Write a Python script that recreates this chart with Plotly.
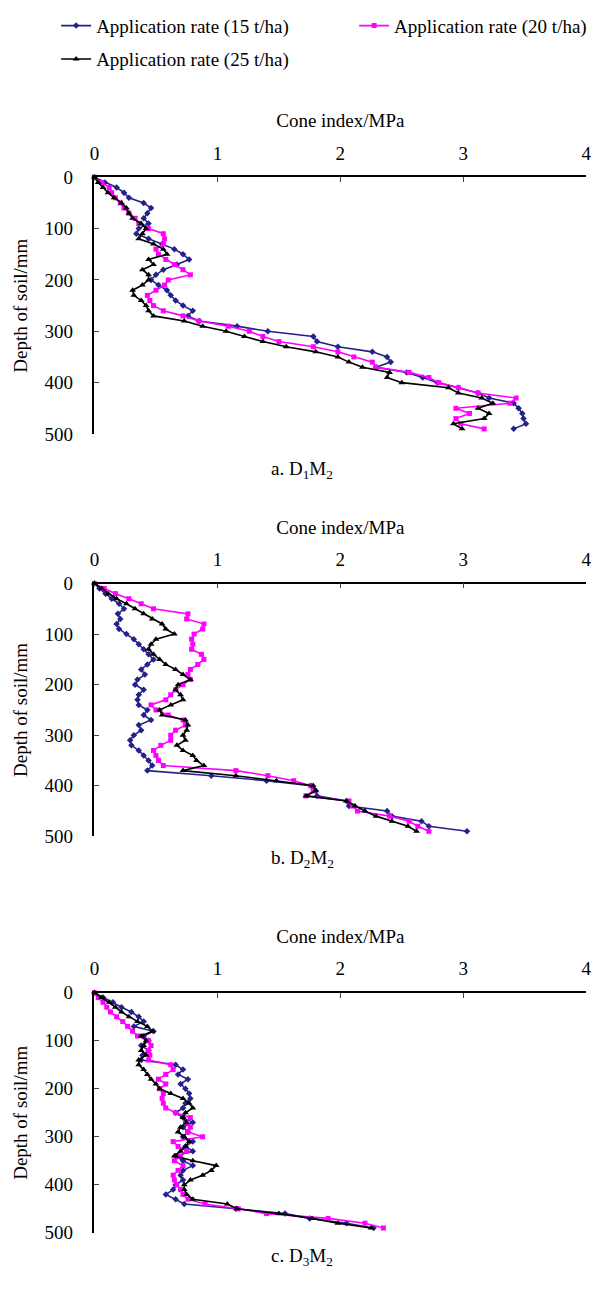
import plotly.graph_objects as go

# depth of soil (mm), shared by every curve
depth = [0, 10, 20, 30, 40, 50, 60, 70, 80, 90,
         100, 110, 120, 130, 140, 150, 160, 170, 180, 190,
         200, 210, 220, 230, 240, 250, 260, 270, 280, 290,
         300, 310, 320, 330, 340, 350, 360, 370, 380, 390,
         400, 410, 420, 430, 440, 450, 460, 470, 480, 490]

series_names = ["Application rate (15 t/ha)", "Application rate (20 t/ha)",
                "Application rate (25 t/ha)"]
x_ticks = [0, 1, 2, 3, 4]
y_ticks = [0, 100, 200, 300, 400, 500]
captions = ["a. D<sub>1</sub>M<sub>2</sub>", "b. D<sub>2</sub>M<sub>2</sub>",
            "c. D<sub>3</sub>M<sub>2</sub>"]

# cone index (MPa), panel a (D1M2)
a_15 = [0, .085, .18, .24, .28, .40, .46, .43, .40, .44,
        .36, .34, .44, .55, .65, .72, .77, .67, .56, .50,
        .46, .52, .59, .62, .66, .72, .80, .76, .85, 1.16,
        1.41, 1.78, 1.81, 1.98, 2.26, 2.38, 2.41, 2.29, 2.54, 2.67,
        2.79, 2.96, 3.12, 3.21, 3.41, 3.45, 3.48, 3.49, 3.51, 3.41]
a_20 = [0, .06, .12, .14, .17, .21, .24, .28, .33, .36,
        .44, .56, .57, .56, .50, .52, .58, .65, .72, .78,
        .60, .57, .50, .43, .45, .48, .56, .72, .85, 1.09,
        1.26, 1.37, 1.50, 1.78, 1.98, 2.11, 2.26, 2.29, 2.56, 2.72,
        2.80, 2.96, 3.12, 3.43, 3.38, 2.94, 3.05, 2.94, 2.98, 3.17]
a_25 = [0, .03, .07, .11, .16, .22, .26, .28, .31, .38,
        .42, .39, .36, .48, .56, .59, .44, .48, .39, .44,
        .44, .39, .31, .32, .38, .42, .44, .48, .73, .88,
        1.07, 1.22, 1.37, 1.56, 1.80, 1.98, 2.07, 2.18, 2.40, 2.38,
        2.50, 2.88, 2.96, 3.15, 3.24, 3.12, 3.21, 3.17, 2.92, 2.99]

# panel b (D2M2)
b_15 = [0, .04, .09, .14, .20, .24, .19, .21, .18, .20,
        .26, .32, .36, .40, .44, .48, .43, .38, .41, .35,
        .33, .40, .36, .35, .36, .43, .40, .46, .36, .38,
        .32, .29, .30, .36, .40, .44, .47, .43, .95, 1.40,
        1.76, 1.80, 1.81, 2.05, 2.07, 2.38, 2.42, 2.66, 2.72, 3.03]
b_20 = [0, .08, .17, .28, .38, .48, .76, .75, .89, .88,
        .81, .79, .80, .79, .87, .89, .84, .78, .76, .78,
        .72, .66, .62, .58, .46, .50, .60, .72, .74, .66,
        .62, .62, .54, .48, .50, .52, .56, 1.15, 1.41, 1.62,
        1.76, 1.78, 1.72, 2.07, 2.10, 2.14, 2.40, 2.56, 2.63, 2.72]
b_25 = [0, .06, .11, .18, .26, .33, .40, .47, .55, .58,
        .65, .50, .46, .44, .48, .53, .58, .66, .72, .78,
        .68, .66, .70, .72, .62, .53, .55, .74, .76, .75,
        .72, .74, .67, .72, .80, .83, .89, .72, 1.15, 1.48,
        1.78, 1.80, 1.72, 2.05, 2.12, 2.20, 2.29, 2.42, 2.55, 2.62]

# panel c (D3M2)
c_15 = [0, .07, .15, .22, .30, .36, .40, .32, .48, .40,
        .44, .38, .44, .39, .38, .66, .72, .68, .76, .70,
        .74, .77, .78, .74, .72, .66, .72, .80, .72, .76,
        .72, .80, .74, .80, .66, .72, .80, .72, .70, .72,
        .66, .64, .58, .66, .73, 1.15, 1.55, 1.75, 2.05, 2.27]
c_20 = [0, .03, .07, .10, .13, .18, .23, .27, .31, .35,
        .44, .46, .44, .45, .44, .62, .64, .58, .52, .58,
        .53, .56, .55, .56, .58, .66, .78, .74, .78, .76,
        .88, .64, .68, .75, .70, .65, .72, .68, .64, .65,
        .67, .70, .72, .76, .90, 1.17, 1.40, 1.90, 2.20, 2.35]
c_25 = [0, .06, .12, .17, .22, .28, .35, .43, .47, .38,
        .42, .40, .38, .42, .36, .36, .40, .43, .46, .50,
        .53, .62, .72, .77, .80, .74, .72, .75, .70, .68,
        .73, .77, .74, .70, .65, .80, .99, .95, .88, .78,
        .73, .73, .75, .80, 1.08, 1.16, 1.50, 1.77, 1.98, 2.25]

panels = [(a_15, a_20, a_25), (b_15, b_20, b_25), (c_15, c_20, c_25)]

W, H = 604, 1293
FONT = "Liberation Serif, Times New Roman, serif"
colors = ["#22228a", "#ff00ff", "#000000"]
symbols = ["diamond", "square", "triangle-up"]
msizes = [5, 5, 6]
legends = ["legend", "legend2", "legend3"]


def fy(px):
    return 1 - px / H


# plot boxes in pixels: (top, bottom)
boxes = [(170, 431), (583, 840), (999, 1243)]
x_dom = [91 / W, 591 / W]
cap_y = [468, 877, 1282]

fig = go.Figure()
for i, vals in enumerate(panels):
    sfx = "" if i == 0 else str(i + 1)
    for j, v in enumerate(vals):
        fig.add_trace(go.Scatter(
            x=v, y=depth, mode="lines+markers", name=series_names[j],
            line=dict(color=colors[j], width=1.6),
            marker=dict(symbol=symbols[j], size=msizes[j], color=colors[j]),
            xaxis="x" + sfx, yaxis="y" + sfx, cliponaxis=False,
            showlegend=(i == 0), legend=legends[j]))

    top, bot = boxes[i]
    fig.update_layout(**{
        "xaxis" + sfx: dict(
            domain=x_dom, anchor="y" + sfx, side="top", range=[0, 4],
            tickvals=x_ticks, ticks="inside", ticklen=5, tickwidth=1.3,
            showline=True, linecolor="black", linewidth=1.5,
            showgrid=False, zeroline=False, ticklabelstandoff=8,
            tickfont=dict(family=FONT, size=19, color="black"),
            title=dict(text="Cone index/MPa", standoff=10,
                       font=dict(family=FONT, size=19, color="black"))),
        "yaxis" + sfx: dict(
            domain=[fy(bot), fy(top)], anchor="x" + sfx, range=[500, 0],
            tickvals=y_ticks, ticks="inside", ticklen=5, tickwidth=1.3,
            showline=True, linecolor="black", linewidth=1.5,
            showgrid=False, zeroline=False, ticklabelstandoff=16,
            tickfont=dict(family=FONT, size=19, color="black"),
            title=dict(text="Depth of soil/mm", standoff=12,
                       font=dict(family=FONT, size=19, color="black"))),
    })
    fig.add_annotation(text=captions[i], x=0.5, y=fy(cap_y[i]), xref="paper",
                       yref="paper", showarrow=False,
                       font=dict(family=FONT, size=19, color="black"))

leg_common = dict(orientation="h", xanchor="left", yanchor="middle",
                  bgcolor="rgba(0,0,0,0)", itemwidth=30,
                  font=dict(family=FONT, size=19, color="black"))
fig.update_layout(
    width=W, height=H, margin=dict(l=0, r=0, t=0, b=0),
    paper_bgcolor="white", plot_bgcolor="white",
    legend=dict(x=52 / W, y=fy(16), **leg_common),
    legend2=dict(x=355 / W, y=fy(16), **leg_common),
    legend3=dict(x=52 / W, y=fy(50), **leg_common),
)

# the page's default body margin would shift the figure inside the window
fig.write_html("out.html", config={"displayModeBar": False},
               post_script="document.body.style.margin='0';")
